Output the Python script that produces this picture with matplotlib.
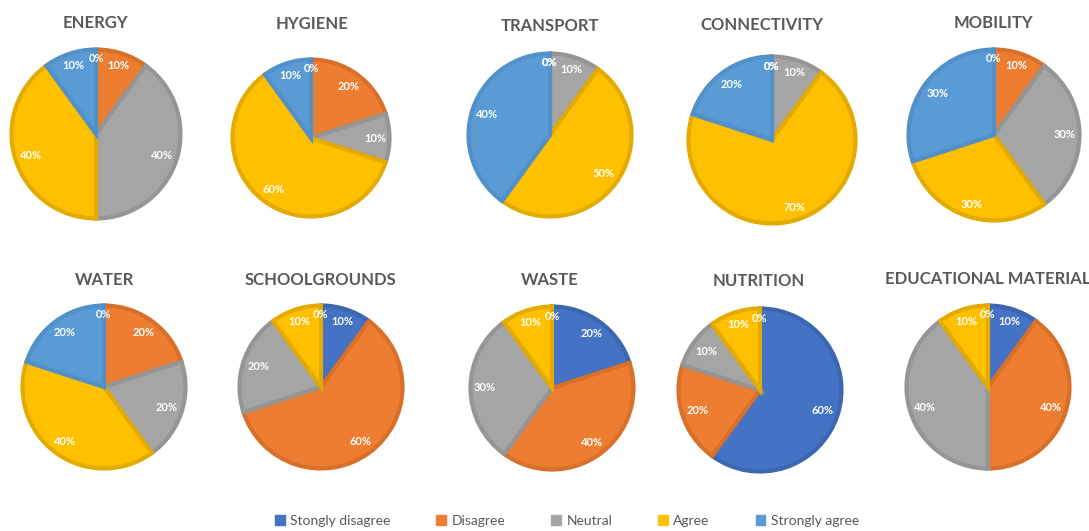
import numpy as np
import matplotlib
matplotlib.use("Agg")
import matplotlib.pyplot as plt
from matplotlib.patches import Patch

# Survey responses per topic (percent of respondents)
topics = ["ENERGY", "HYGIENE", "TRANSPORT", "CONNECTIVITY", "MOBILITY",
          "WATER", "SCHOOLGROUNDS", "WASTE", "NUTRITION", "EDUCATIONAL MATERIAL"]
levels = ["Stongly disagree", "Disagree", "Neutral", "Agree", "Strongly agree"]

strongly_disagree = [0, 0, 0, 0, 0, 0, 10, 20, 60, 10]
disagree = [10, 20, 0, 0, 10, 20, 60, 40, 20, 40]
neutral = [40, 10, 10, 10, 30, 20, 20, 30, 10, 40]
agree = [40, 60, 50, 70, 30, 40, 10, 10, 10, 10]
strongly_agree = [10, 10, 40, 20, 30, 20, 0, 0, 0, 0]

fills = ["#4472C4", "#ED7D31", "#A5A5A5", "#FFC000", "#5B9BD5"]
borders = ["#3C66B0", "#D8702A", "#959595", "#E3AB00", "#5190C8"]

W, H = 1089, 531
fig = plt.figure(figsize=(W / 100, H / 100), dpi=100)
fig.patch.set_facecolor("white")

# pie centre (x, y) and radius in pixels, title centre in pixels
pie_boxes = [(96, 134, 86), (311, 138, 80), (550, 135, 83), (772, 140, 85), (994, 135, 87),
             (104, 387, 83), (321, 387, 83), (552, 388, 83), (760, 390, 83), (988, 387, 83)]
title_pos = [(95, 23), (312, 24), (550, 26), (762, 25), (993, 23),
             (104, 280), (320, 280), (550, 280), (759, 281), (988, 279)]

title_color = "#595959"
fonts = ["Lato", "DejaVu Sans"]

for i, topic in enumerate(topics):
    vals = [strongly_disagree[i], disagree[i], neutral[i], agree[i], strongly_agree[i]]
    cx, cy, r = pie_boxes[i]
    ax = fig.add_axes([(cx - r - 2) / W, (H - cy - r - 2) / H, (2 * r + 4) / W, (2 * r + 4) / H])

    lw = 3.0
    wedges, _ = ax.pie(vals, colors=fills, startangle=90, counterclock=False,
                       radius=1 - 1.5 / r,
                       wedgeprops=dict(linewidth=lw, joinstyle="miter"))
    for w, v, ec in zip(wedges, vals, borders):
        w.set_edgecolor(ec)
        if v == 0:
            w.set_linewidth(0)

    lim = (r + 2) / r
    ax.set_xlim(-lim, lim)
    ax.set_ylim(-lim, lim)
    ax.set_aspect("equal")
    ax.axis("off")

    # data labels placed just inside the rim
    total = sum(vals)
    start = 0.0
    for v in vals:
        frac = v / total
        mid = start + frac / 2
        start += frac
        theta = np.pi / 2 - 2 * np.pi * mid
        ux, uy = np.cos(theta), np.sin(theta)
        txt = f"{v}%"
        hw = 10 if len(txt) >= 3 else 7
        hh = 5
        d = (r - 6 - (hw * abs(ux) + hh * abs(uy))) / r
        ax.text(d * ux, d * uy, txt, ha="center", va="center", color="white",
                fontsize=8, fontweight="bold", family=fonts)

    tx, ty = title_pos[i]
    fig.text(tx / W, 1 - ty / H, topic, ha="center", va="center", fontsize=12,
             fontweight="bold", color=title_color, family=fonts)

handles = [Patch(facecolor=c, edgecolor=c) for c in fills]
leg = fig.legend(handles, levels, loc="center", bbox_to_anchor=(567 / W, 1 - 521 / H),
                 ncol=5, frameon=False, handlelength=0.7, handleheight=0.7,
                 handletextpad=0.4, columnspacing=3.3,
                 prop={"family": fonts, "size": 10})
for t in leg.get_texts():
    t.set_color(title_color)

fig.savefig("out.png", dpi=100, facecolor="white")
